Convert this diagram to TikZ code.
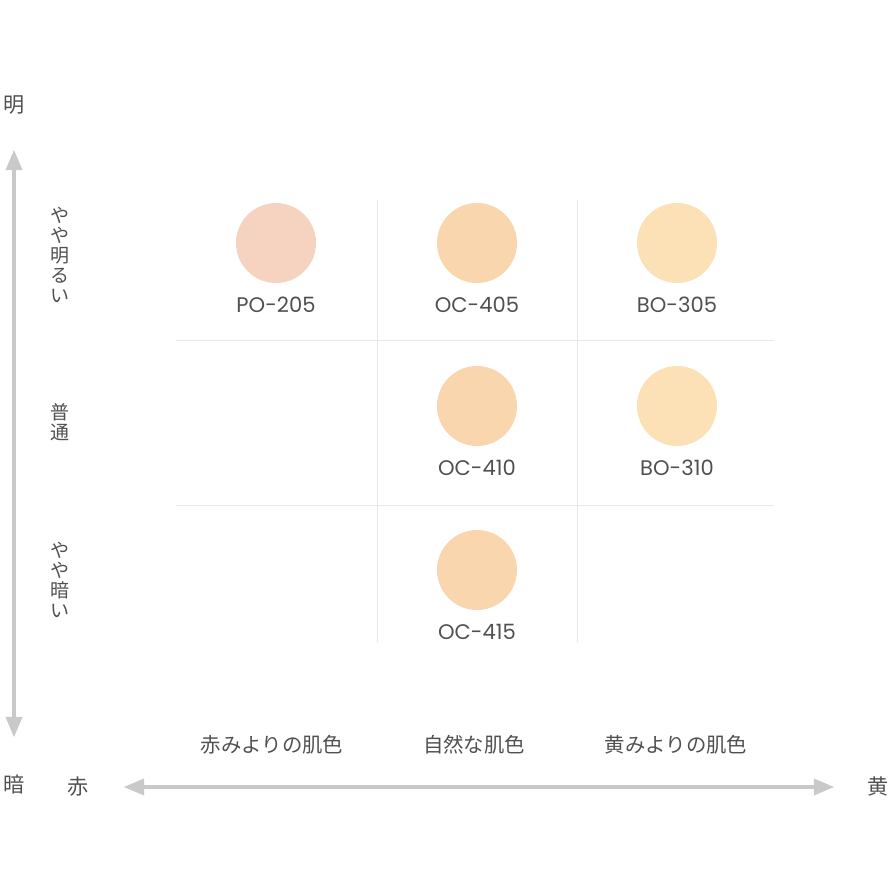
\documentclass[tikz,border=0pt]{standalone}
\usepackage{fontspec}
\setmainfont{Noto Sans CJK JP}
\newfontfamily\codefont{Poppins}
\usetikzlibrary{arrows}
\definecolor{axisgray}{HTML}{C9C9C9}
\definecolor{gridgray}{HTML}{E8E8E8}
\definecolor{textgray}{HTML}{505050}
\definecolor{pocol}{HTML}{F6D3C0}
\definecolor{occol}{HTML}{FAD6AE}
\definecolor{bocol}{HTML}{FBE1B5}

\begin{document}
\begin{tikzpicture}[line cap=round,line join=round,>=triangle 45,x=0.025cm,y=-0.025cm,
  axis/.style={draw=axisgray,line width=2.4pt},
  grid/.style={draw=gridgray,line width=0.6pt},
  swatch/.style={circle,minimum size=80*0.025cm,inner sep=0pt},
  code/.style={text=textgray,font=\codefont\fontsize{15}{18}\selectfont,inner sep=0pt},
  side/.style={text=textgray,font=\fontsize{15}{18}\selectfont,inner sep=0pt},
  vtxt/.style={text=textgray,font=\fontsize{13.5}{14.2}\selectfont,align=center,inner sep=0pt},
  ctxt/.style={text=textgray,font=\fontsize{14.5}{18}\selectfont,inner sep=0pt}]
\useasboundingbox (0,0) rectangle (894,894);
% axes
\node[side] (ming) at (14,105) {明};
\node[side] (an) at (14,785) {暗};
\node[side] (aka) at (78,787) {赤};
\node[side] (ki) at (878,787) {黄};
\coordinate (vtop) at (14,150);
\coordinate (vbot) at (14,737);
\coordinate (hleft) at (124,787);
\coordinate (hright) at (834,787);
\draw[axis,<->] (vbot) -- (vtop);
\draw[axis,<->] (hleft) -- (hright);
% grid
\foreach \x in {377,577}
\draw[grid] (\x,200) -- (\x,642);
\foreach \y in {340,505}
\draw[grid] (176,\y) -- (774,\y);
% rows
\node[vtxt] (bright) at (60,255) {や\\や\\明\\る\\い};
\node[vtxt] (normal) at (60,422) {普\\通};
\node[vtxt] (dark) at (60,580) {や\\や\\暗\\い};
% columns
\node[ctxt] (reddish) at (272,745) {赤みよりの肌色};
\node[ctxt] (natural) at (474,745) {自然な肌色};
\node[ctxt] (yellowish) at (676,745) {黄みよりの肌色};
% swatches
\foreach \x/\y/\c/\n in {276/243/pocol/PO-205,477/243/occol/OC-405,677/243/bocol/BO-305,
  477/406/occol/OC-410,677/406/bocol/BO-310,477/570/occol/OC-415}
{
\node[swatch,fill=\c] (\n) at (\x,\y) {};
\node[code] (\n-lbl) at (\x,\y+62) {\n};
}
\end{tikzpicture}
\end{document}
